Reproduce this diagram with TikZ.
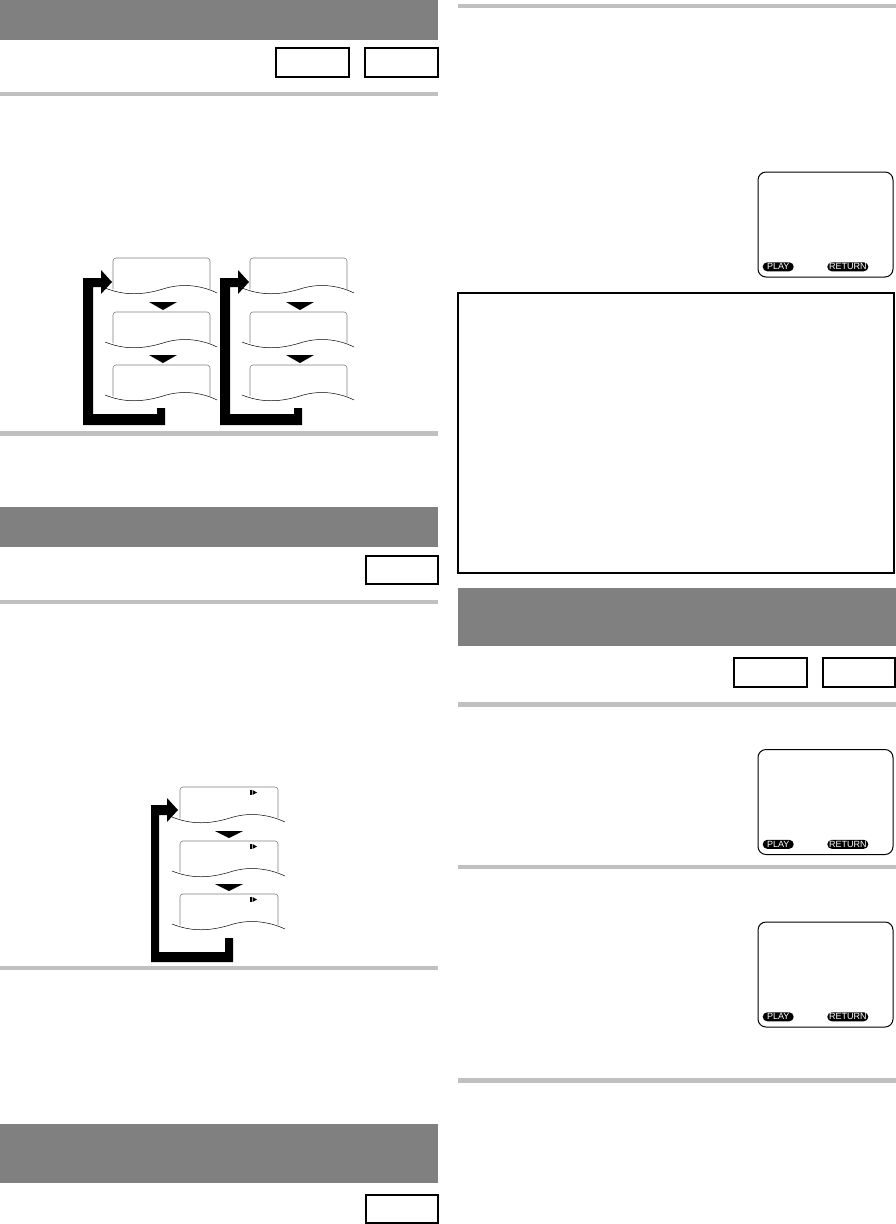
\documentclass[tikz,border=0pt]{standalone}
\usepackage{fontspec}
\setsansfont{Liberation Sans}
\usetikzlibrary{positioning}

\definecolor{bargray}{HTML}{808080}
\definecolor{rulegray}{HTML}{C0C0C0}

\newcommand*{\colw}{438}
\newcommand*{\rcol}{458}
\newcommand*{\rmax}{894}

\begin{document}
\begin{tikzpicture}
[
	x=1pt,
	y=-1pt,
	headbar/.style={fill=bargray},
	thinrule/.style={fill=rulegray},
	keybox/.style={draw,line width=1.4pt},
	boxline/.style={draw=gray,line width=0.6pt,rounded corners=3pt},
	waveline/.style={draw,line width=0.5pt},
	tvscreen/.style={draw,line width=1pt,rounded corners=8pt,minimum width=135pt,minimum height=105pt,inner sep=0pt},
	pill/.style={fill=black,text=white,rounded corners=4.5pt,inner sep=0pt,minimum height=9pt,font=\sffamily\fontsize{9}{9}\selectfont}
]

	\useasboundingbox (0,0) rectangle (896,1224);

	% left column
	\fill[headbar] (0,0) rectangle (\colw,40);
	\draw[keybox] (276,48) rectangle (349,77);
	\draw[keybox] (365,48) rectangle (\colw,77);
	\fill[thinrule] (0,92) rectangle (\colw,96);

	% first flow chart (two columns of screens)
	\foreach \l in {113,250}
		\foreach \t in {258,312,365}
		{
			\draw[boxline] (\l,{\t+31}) |- ({\l+48},\t) -| ({\l+97},{\t+31});
			\draw[waveline] ({\l-8},{\t+30}) .. controls ({\l+12},{\t+38}) and ({\l+30},{\t+37}) .. ({\l+50},{\t+31}) .. controls ({\l+68},{\t+25}) and ({\l+88},{\t+27}) .. ({\l+104},{\t+35});
		}
	\foreach \l in {113,250}
		\foreach \t in {302,355}
			\fill ({\l+36},\t) -- ({\l+64},\t) -- ({\l+50},{\t+8}) -- cycle;
	\foreach \s in {0,137}
		\fill[xshift=\s] (83,425) -- (83,278) -- (101,278) -- (101,270) -- (112,282) -- (101,294) -- (101,287) -- (93,287) -- (93,414) -- (157,414) -- (157,408) -- (165,408) -- (165,425) -- cycle;

	\fill[thinrule] (0,431) rectangle (\colw,436);

	\fill[headbar] (0,507) rectangle (\colw,547);
	\draw[keybox] (366,556) rectangle (\colw,584);
	\fill[thinrule] (0,600) rectangle (\colw,604);

	% second flow chart
	\foreach \t in {787,841,894}
	{
		\draw[boxline] (180,{\t+31}) |- (229,\t) -| (278,{\t+31});
		\draw[waveline] (172,{\t+30}) .. controls (192,{\t+38}) and (210,{\t+37}) .. (230,{\t+31}) .. controls (248,{\t+25}) and (268,{\t+27}) .. (285,{\t+35});
		\fill (250,{\t+3}) rectangle (251.5,{\t+8});
		\fill (252.5,{\t+3}) -- (257,{\t+5.5}) -- (252.5,{\t+8}) -- cycle;
	}
	\foreach \t in {831,884}
		\fill (215,\t) -- (243,\t) -- (229,{\t+7}) -- cycle;
	\fill (151,962) -- (151,805) -- (167,805) -- (167,798) -- (178,810) -- (167,822) -- (167,815) -- (159,815) -- (159,952) -- (225,952) -- (225,938) -- (233,938) -- (233,962) -- cycle;

	\fill[thinrule] (0,966) rectangle (\colw,970);

	\fill[headbar] (0,1124) rectangle (\colw,1183);
	\draw[keybox] (366,1195) rectangle (\colw,1223);

	% right column
	\fill[thinrule] (\rcol,4) rectangle (896,8);

	\node[tvscreen] (scr1) at (825.5,224.5) {};
	\node[pill,minimum width=31pt,above right=6pt and 5pt of scr1.south west,anchor=south west] (play1) {PLAY};
	\node[pill,minimum width=41pt,above left=6pt and 25pt of scr1.south east,anchor=south east] (ret1) {RETURN};

	\draw[line width=1.2pt] (\rcol,293) rectangle (\rmax,573);

	\fill[headbar] (\rcol,588) rectangle (896,646);
	\draw[keybox] (734,658) rectangle (807,687);
	\draw[keybox] (823,658) rectangle (895,687);
	\fill[thinrule] (\rcol,702) rectangle (896,707);

	\node[tvscreen] (scr2) at (825.5,802) {};
	\node[pill,minimum width=31pt,above right=6pt and 5pt of scr2.south west,anchor=south west] (play2) {PLAY};
	\node[pill,minimum width=41pt,above left=6pt and 25pt of scr2.south east,anchor=south east] (ret2) {RETURN};

	\fill[thinrule] (\rcol,865) rectangle (896,869);

	\node[tvscreen] (scr3) at (825.5,974.5) {};
	\node[pill,minimum width=31pt,above right=6pt and 5pt of scr3.south west,anchor=south west] (play3) {PLAY};
	\node[pill,minimum width=41pt,above left=6pt and 25pt of scr3.south east,anchor=south east] (ret3) {RETURN};

	\fill[thinrule] (\rcol,1078) rectangle (896,1083);

\end{tikzpicture}
\end{document}
